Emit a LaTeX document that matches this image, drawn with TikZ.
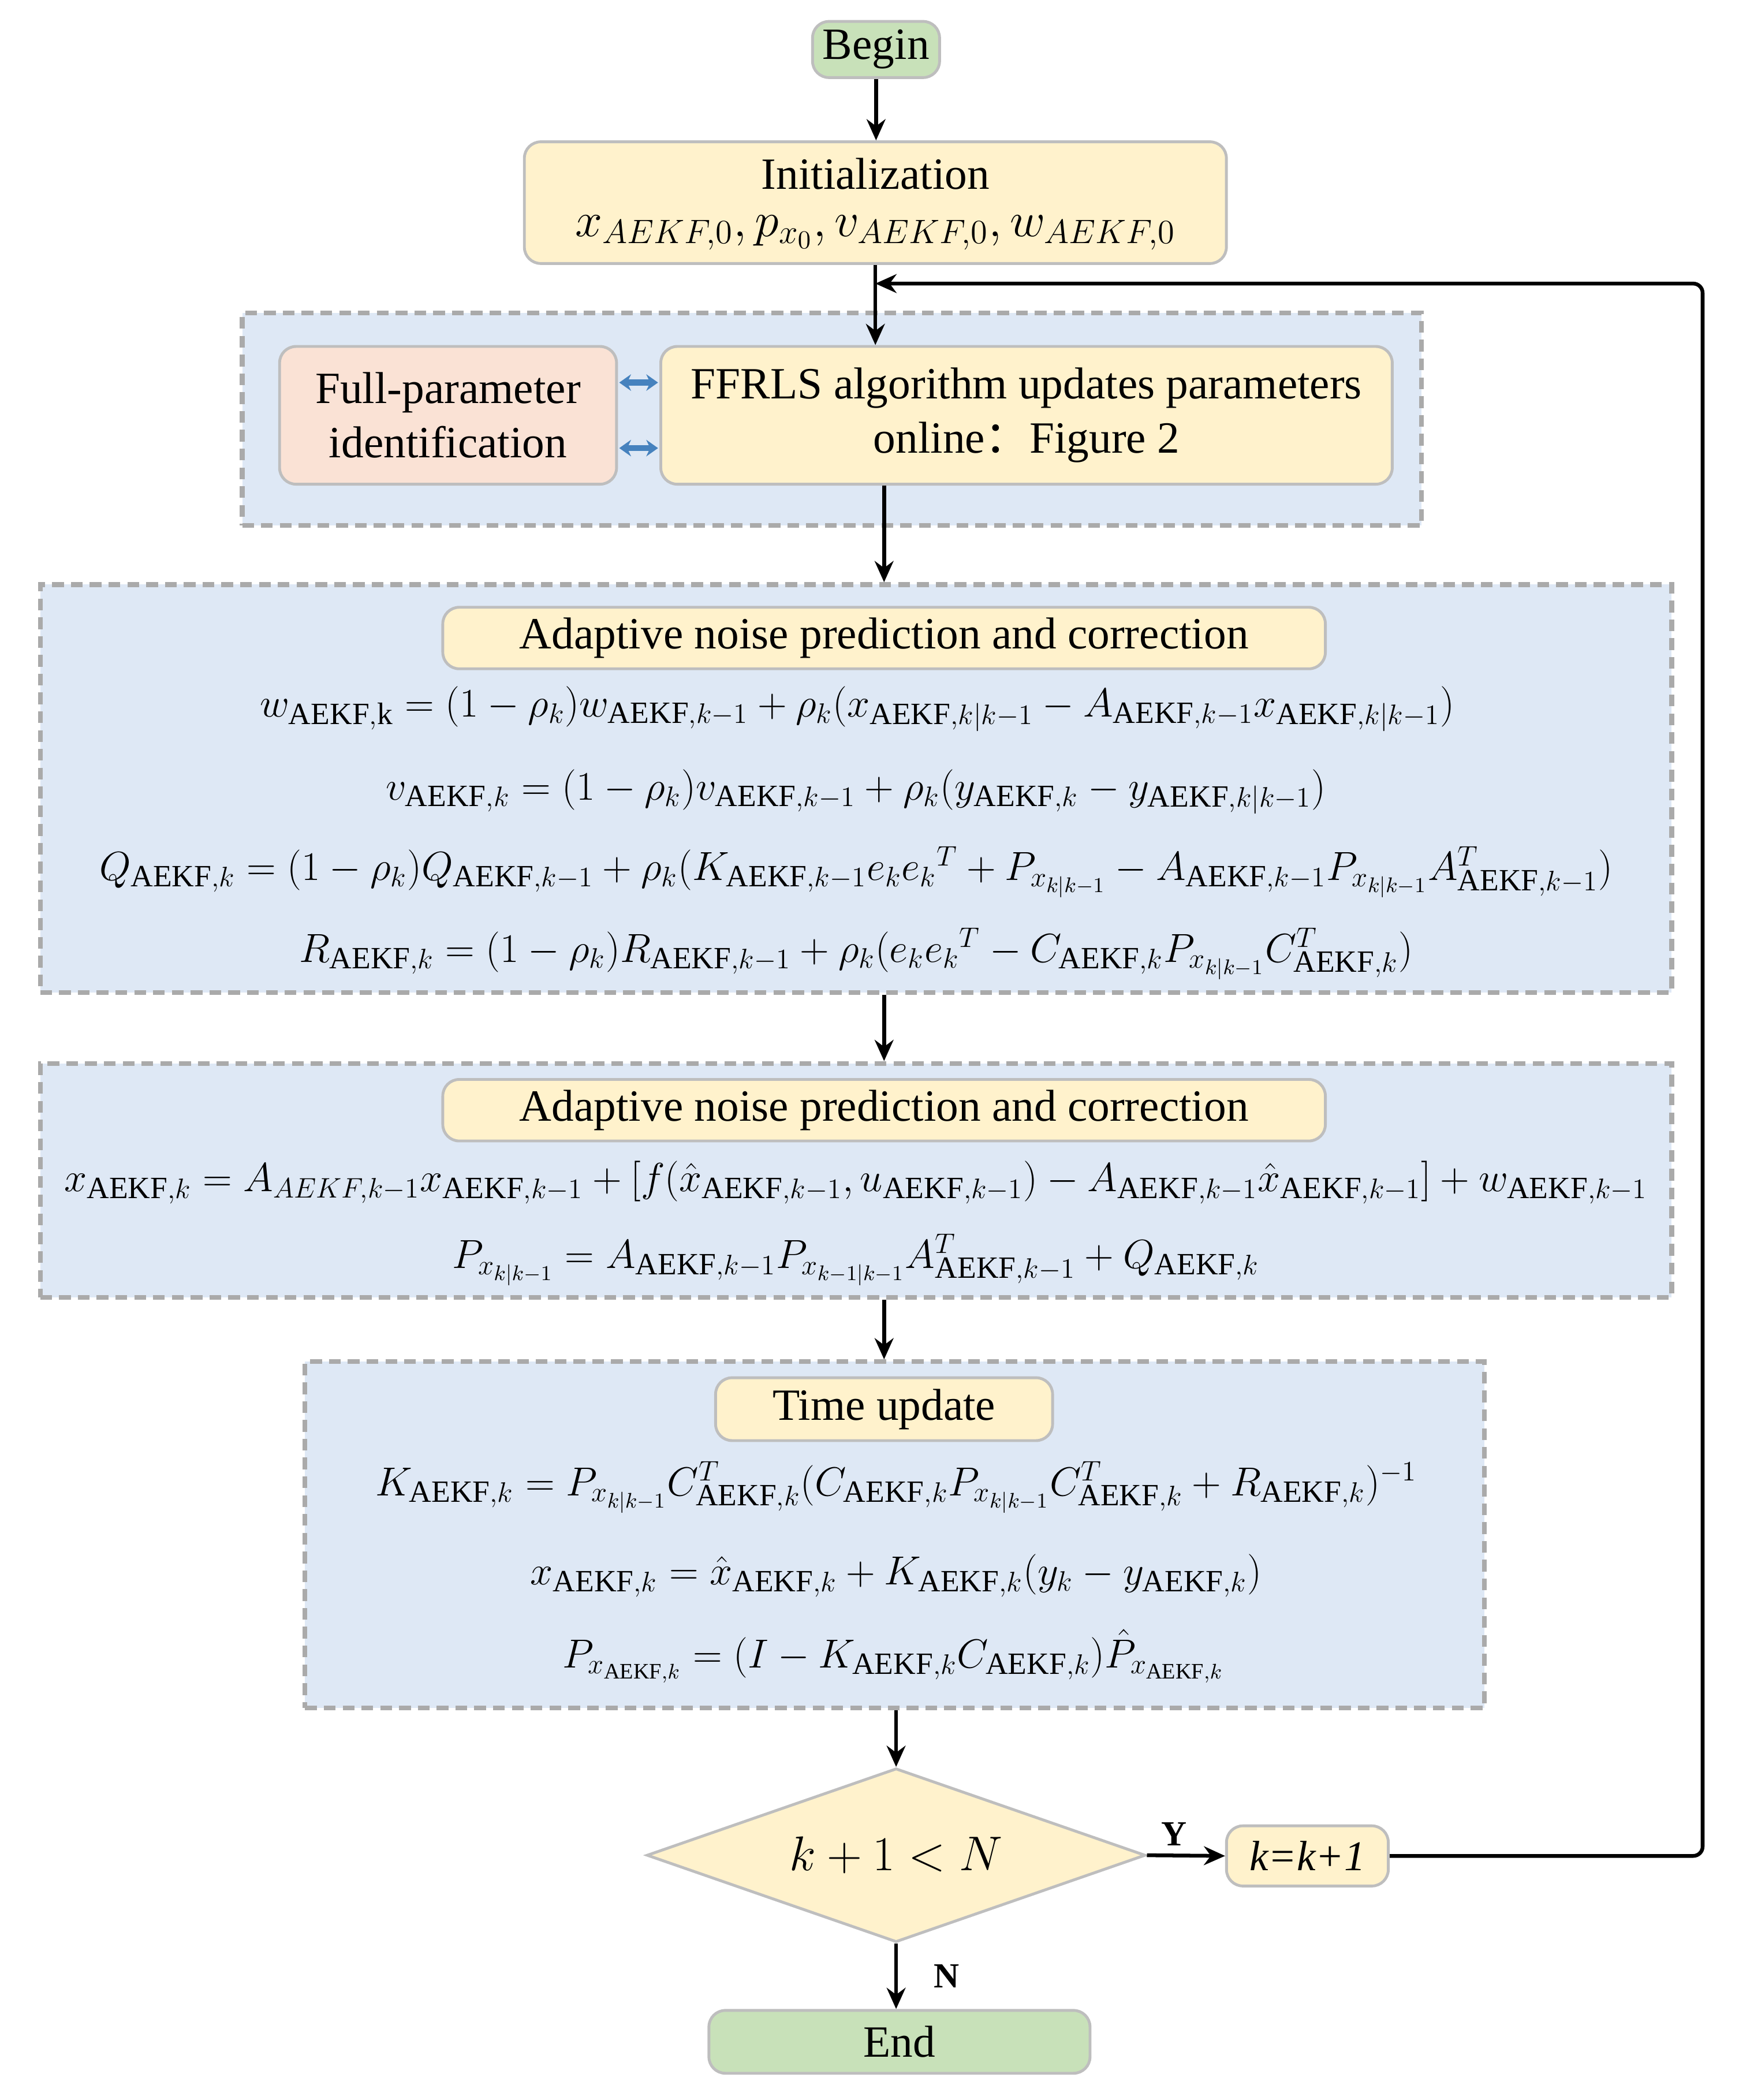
\documentclass[tikz,border=0pt]{standalone}
\usepackage{fontspec}
\setmainfont{Liberation Serif}
\newfontfamily\cjk{Noto Sans CJK SC}
\usetikzlibrary{shapes.geometric,arrows.meta,calc}
\definecolor{gfill}{RGB}{200,225,185}
\definecolor{yfill}{RGB}{255,242,204}
\definecolor{bfill}{RGB}{222,232,245}
\definecolor{pfill}{RGB}{250,226,213}
\definecolor{bord}{RGB}{190,190,190}
\definecolor{dbord}{RGB}{170,170,170}
\definecolor{darr}{RGB}{70,130,190}
\newcommand{\aek}{\mathrm{AEKF}}
\begin{document}
\begin{tikzpicture}[x=0.02cm,y=-0.02cm,
  every node/.style={font=\fontsize{19}{23}\selectfont},
  rbox/.style={draw=bord,line width=1.2pt,rounded corners=7pt,inner sep=0pt,align=center},
  dbox/.style={draw=dbord,fill=bfill,line width=2pt,dash pattern=on 5pt off 3pt,inner sep=0pt},
  eq/.style={inner sep=0pt,font=\fontsize{18.8}{22}\selectfont},
  arr/.style={line width=1.6pt,-{Stealth[length=9pt,width=8pt]}},
  darrow/.style={draw=darr,line width=2.5pt,{Stealth[length=5pt,width=7pt]}-{Stealth[length=5pt,width=7pt]}}]
\useasboundingbox (0,0) rectangle (1300,1570);
\node[rbox,fill=gfill,minimum width=1.9cm,minimum height=0.84cm] (begin) at (655,37) {Begin};
\node[rbox,fill=yfill,minimum width=10.5cm,minimum height=1.82cm] (init) at (654.5,151.5) {};
\node[inner sep=0pt] (initT) at (654.5,130) {Initialization};
\node[inner sep=0pt,font=\fontsize{21}{25}\selectfont] (initM) at (654.5,174) {$x_{AEKF,0},p_{x_0},v_{AEKF,0},w_{AEKF,0}$};
\node[dbox,minimum width=17.64cm,minimum height=3.18cm] (box1) at (622,313.5) {};
\node[rbox,fill=pfill,minimum width=5.04cm,minimum height=2.06cm] (full) at (335,310.5) {Full-parameter\\identification};
\node[rbox,fill=yfill,minimum width=10.94cm,minimum height=2.06cm] (ffrls) at (767.5,310.5) {FFRLS algorithm updates parameters\\online{\cjk ：}Figure 2};
\coordinate (d1a) at (463,286); \coordinate (d1b) at (492,286);
\coordinate (d2a) at (463,335); \coordinate (d2b) at (492,335);
\draw[darrow] (d1a) -- (d1b);
\draw[darrow] (d2a) -- (d2b);
\node[dbox,minimum width=24.4cm,minimum height=6.1cm] (box2) at (640,589.5) {};
\node[rbox,fill=yfill,minimum width=13.2cm,minimum height=0.92cm] (h2) at (661,477) {Adaptive noise prediction and correction};
\node[eq] (e1) at (641,530) {$w_{\mathrm{AEKF,k}}=(1-\rho_k)w_{\aek,k-1}+\rho_k(x_{\aek,k|k-1}-A_{\aek,k-1}x_{\aek,k|k-1})$};
\node[eq] (e2) at (640,592) {$v_{\aek,k}=(1-\rho_k)v_{\aek,k-1}+\rho_k(y_{\aek,k}-y_{\aek,k|k-1})$};
\node[eq] (e3) at (640,652) {$Q_{\aek,k}=(1-\rho_k)Q_{\aek,k-1}+\rho_k(K_{\aek,k-1}e_ke_k{}^T+P_{x_{k|k-1}}-A_{\aek,k-1}P_{x_{k|k-1}}A^T_{\aek,k-1})$};
\node[eq] (e4) at (640,713) {$R_{\aek,k}=(1-\rho_k)R_{\aek,k-1}+\rho_k(e_ke_k{}^T-C_{\aek,k}P_{x_{k|k-1}}C^T_{\aek,k})$};
\node[dbox,minimum width=24.4cm,minimum height=3.5cm] (box3) at (640,882.5) {};
\node[rbox,fill=yfill,minimum width=13.2cm,minimum height=0.92cm] (h3) at (661,830) {Adaptive noise prediction and correction};
\node[eq] (e5) at (640,884) {$x_{\aek,k}=A_{AEKF,k-1}x_{\aek,k-1}+[f(\hat{x}_{\aek,k-1},u_{\aek,k-1})-A_{\aek,k-1}\hat{x}_{\aek,k-1}]+w_{\aek,k-1}$};
\node[eq] (e6) at (640,942) {$P_{x_{k|k-1}}=A_{\aek,k-1}P_{x_{k-1|k-1}}A^T_{\aek,k-1}+Q_{\aek,k}$};
\node[dbox,minimum width=17.64cm,minimum height=5.18cm] (box4) at (669,1147.5) {};
\node[rbox,fill=yfill,minimum width=5.04cm,minimum height=0.94cm] (h4) at (661,1053.5) {Time update};
\node[eq] (e7) at (670,1112) {$K_{\aek,k}=P_{x_{k|k-1}}C^T_{\aek,k}(C_{\aek,k}P_{x_{k|k-1}}C^T_{\aek,k}+R_{\aek,k})^{-1}$};
\node[eq] (e8) at (670,1178) {$x_{\aek,k}=\hat{x}_{\aek,k}+K_{\aek,k}(y_k-y_{\aek,k})$};
\node[eq] (e9) at (668,1238) {$P_{x_{\aek,k}}=(I-K_{\aek,k}C_{\aek,k})\hat{P}_{x_{\aek,k}}$};
\node[diamond,draw=bord,line width=1.2pt,fill=yfill,inner sep=0pt,shape aspect=2.87,minimum width=7.46cm,minimum height=2.6cm,font=\fontsize{20}{24}\selectfont] (dia) at (670,1387) {$k+1<N$};
\node[rbox,fill=yfill,minimum width=2.42cm,minimum height=0.9cm,font=\fontsize{18}{21}\selectfont\itshape] (kk) at (977.5,1387.5) {k=k+1};
\node[rbox,fill=gfill,minimum width=5.7cm,minimum height=0.94cm] (end) at (672.5,1526.5) {End};
\coordinate (loop) at (1273,212);
\draw[arr] (begin.south) -- (begin.south |- init.north);
\draw[arr] (init.south) -- (init.south |- ffrls.north);
\draw[line width=1.6pt,rounded corners=4pt,-{Stealth[length=9pt,width=8pt]}] (kk.east) -| (loop) -- (init.south |- loop);
\draw[arr] (ffrls.south -| h2) -- (box2.north -| h2);
\draw[arr] (box2.south -| h2) -- (box3.north -| h2);
\draw[arr] (box3.south -| h3) -- (box4.north -| h3);
\draw[arr] (box4.south -| dia) -- (dia.north);
\draw[arr] (dia.east) -- node[above,pos=0.35,font=\fontsize{15}{18}\selectfont\bfseries] {Y} (kk.west);
\draw[arr] (dia.south) -- node[right=12pt,font=\fontsize{15}{18}\selectfont\bfseries] {N} (dia.south |- end.north);
\end{tikzpicture}
\end{document}
